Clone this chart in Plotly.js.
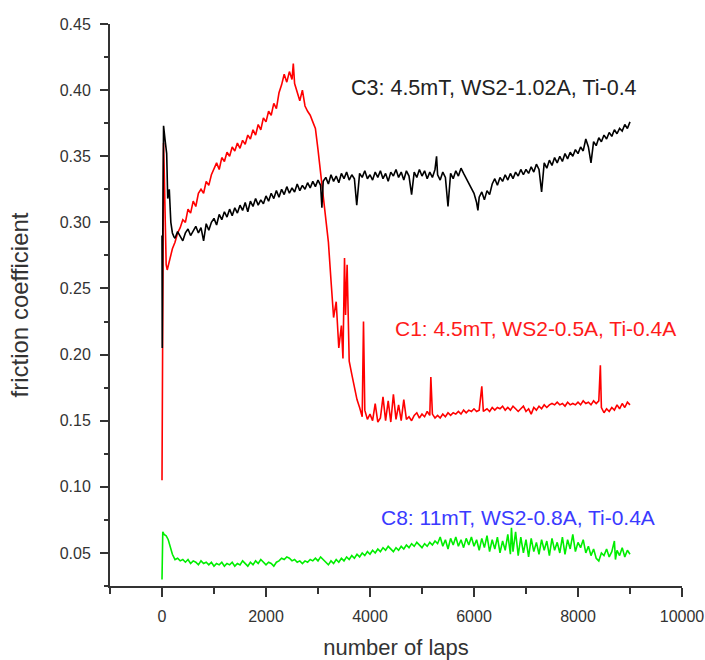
<!DOCTYPE html>
<html>
<head>
<meta charset="utf-8">
<script src="https://cdn.plot.ly/plotly-3.0.1.min.js"></script>
<style>html,body{margin:0;padding:0;background:#fff;}#chart{width:705px;height:660px;}</style>
</head>
<body>
<div id="chart"></div>
<script>
// C3: 4.5mT, WS2-1.02A, Ti-0.4  (black)
const lapsC3 = [0,5,15,30,60,90,110,140,170,200,230,
250,300,350,400,450,500,550,600,650,700,750,800,850,900,950,
1000,1050,1100,1150,1200,1250,1300,1350,1400,1450,1500,1550,1600,1650,1700,1750,1800,1850,1900,1950,
2000,2050,2100,2150,2200,2250,2300,2350,2400,2450,2500,2550,2600,2650,2700,2750,2800,2850,2900,2950,
3000,3050,3075,3100,3150,3200,3250,3300,3350,3400,3450,3500,3550,3600,3650,3700,3745,3800,3850,3900,3950,
4000,4050,4100,4150,4200,4250,4300,4350,4400,4450,4500,4550,4600,4650,4700,4750,4800,4850,4900,4950,
5000,5050,5100,5150,5200,5250,5280,5300,5350,5400,5450,5500,5550,5600,5650,5700,5750,5800,5850,5900,5950,
6000,6050,6075,6100,6150,6200,6250,6300,6350,6400,6450,6500,6550,6600,6650,6700,6750,6800,6850,6900,6950,
7000,7050,7100,7150,7200,7250,7300,7350,7400,7450,7500,7550,7600,7650,7700,7750,7800,7850,7900,7950,
8000,8050,8100,8150,8200,8250,8300,8350,8400,8450,8500,8550,8600,8650,8700,8750,8800,8850,8900,8950,9000];
const muC3 = [0.290,0.205,0.290,0.373,0.362,0.352,0.318,0.325,0.300,0.292,0.289,
0.288,0.293,0.290,0.286,0.292,0.295,0.290,0.294,0.297,0.292,0.296,0.286,0.299,0.294,0.300,
0.303,0.298,0.306,0.302,0.308,0.304,0.310,0.305,0.311,0.307,0.313,0.309,0.315,0.308,0.316,0.312,0.318,0.313,0.317,0.314,
0.320,0.316,0.322,0.318,0.324,0.319,0.325,0.321,0.327,0.322,0.326,0.323,0.329,0.324,0.328,0.325,0.330,0.326,0.331,0.327,
0.332,0.328,0.311,0.331,0.334,0.329,0.336,0.331,0.335,0.330,0.337,0.333,0.338,0.332,0.336,0.333,0.313,0.337,0.334,0.339,0.333,
0.336,0.332,0.338,0.334,0.339,0.333,0.337,0.331,0.338,0.335,0.340,0.334,0.338,0.332,0.339,0.335,0.321,0.338,0.334,0.340,
0.335,0.339,0.333,0.338,0.334,0.340,0.350,0.336,0.332,0.338,0.334,0.312,0.337,0.333,0.339,0.335,0.341,0.337,0.333,0.330,0.326,
0.322,0.315,0.309,0.319,0.323,0.317,0.324,0.321,0.329,0.333,0.328,0.334,0.331,0.336,0.332,0.337,0.333,0.338,0.335,0.340,0.336,
0.340,0.337,0.342,0.338,0.344,0.340,0.323,0.345,0.341,0.347,0.343,0.349,0.345,0.350,0.346,0.352,0.348,0.353,0.350,0.355,
0.352,0.357,0.354,0.363,0.357,0.345,0.361,0.358,0.364,0.361,0.366,0.363,0.368,0.365,0.370,0.367,0.371,0.369,0.374,0.371,0.376];

// C1: 4.5mT, WS2-0.5A, Ti-0.4A  (red)
const lapsC1 = [0,8,15,30,45,60,80,100,150,200,250,300,350,400,450,500,550,600,650,700,750,800,850,900,950,
1000,1050,1100,1150,1200,1250,1300,1350,1400,1450,1500,1550,1600,1650,1700,1750,1800,1850,1900,1950,
2000,2050,2100,2150,2200,2250,2300,2350,2400,2450,2500,2525,2550,2600,2650,2700,2750,2800,2850,2900,2950,
3000,3050,3100,3150,3200,3250,3300,3350,3400,3450,3480,3510,3530,3560,3600,3650,3700,3750,3800,3850,3875,3900,3950,
4000,4050,4100,4150,4200,4250,4300,4350,4400,4450,4500,4550,4600,4650,4700,4750,4800,4850,4900,4950,
5000,5050,5100,5150,5170,5200,5250,5300,5350,5400,5450,5500,5550,5600,5650,5700,5750,5800,5850,5900,5950,
6000,6050,6100,6150,6180,6250,6300,6350,6400,6450,6500,6550,6600,6650,6700,6750,6800,6850,6900,6950,
7000,7050,7100,7150,7200,7250,7300,7350,7400,7450,7500,7550,7600,7650,7700,7750,7800,7850,7900,7950,
8000,8050,8100,8150,8200,8250,8300,8350,8400,8430,8450,8500,8550,8600,8650,8700,8750,8800,8850,8900,8950,9000];
const muC1 = [0.105,0.190,0.300,0.360,0.335,0.300,0.268,0.264,0.272,0.280,0.285,0.292,0.296,0.302,0.300,0.310,0.307,0.316,0.312,0.322,0.325,0.322,0.331,0.328,0.336,
0.340,0.345,0.340,0.349,0.346,0.353,0.350,0.357,0.354,0.360,0.356,0.362,0.359,0.366,0.363,0.370,0.366,0.374,0.370,0.379,
0.376,0.384,0.381,0.390,0.386,0.398,0.404,0.412,0.406,0.414,0.408,0.420,0.405,0.398,0.392,0.400,0.388,0.384,0.381,0.376,0.371,
0.355,0.338,0.320,0.302,0.285,0.256,0.228,0.240,0.205,0.222,0.197,0.273,0.230,0.268,0.195,0.185,0.176,0.166,0.160,0.153,0.225,0.158,0.151,
0.155,0.150,0.163,0.149,0.152,0.168,0.150,0.165,0.149,0.170,0.151,0.162,0.150,0.166,0.151,0.153,0.150,0.154,0.156,0.152,
0.155,0.153,0.157,0.154,0.183,0.155,0.152,0.154,0.152,0.155,0.153,0.156,0.154,0.156,0.155,0.157,0.155,0.158,0.156,0.158,0.157,
0.159,0.157,0.158,0.176,0.157,0.159,0.157,0.160,0.158,0.160,0.159,0.161,0.158,0.160,0.158,0.161,0.159,0.157,0.159,0.161,
0.157,0.159,0.155,0.160,0.158,0.161,0.159,0.162,0.160,0.162,0.163,0.162,0.164,0.162,0.163,0.161,0.164,0.162,0.163,0.162,
0.164,0.162,0.165,0.163,0.164,0.162,0.165,0.163,0.165,0.192,0.160,0.156,0.159,0.157,0.160,0.158,0.162,0.159,0.163,0.160,0.164,0.162];

// C8: 11mT, WS2-0.8A, Ti-0.4A  (green)
const lapsC8 = [0,5,15,40,80,120,160,200,250,300,350,400,450,500,550,600,650,700,750,800,850,900,950,
1000,1050,1100,1150,1200,1250,1300,1350,1400,1450,1500,1550,1600,1650,1700,1750,1800,1850,1900,1950,
2000,2050,2100,2150,2200,2250,2300,2350,2400,2450,2500,2550,2600,2650,2700,2750,2800,2850,2900,2950,
3000,3050,3100,3150,3200,3250,3300,3350,3400,3450,3500,3550,3600,3650,3700,3750,3800,3850,3900,3950,
4000,4050,4100,4150,4200,4250,4300,4350,4400,4450,4500,4550,4600,4650,4700,4750,4800,4850,4900,4950,
5000,5050,5100,5150,5200,5250,5300,5350,5400,5450,5500,5550,5600,5650,5700,5750,5800,5850,5900,5950,
6000,6050,6100,6150,6200,6250,6300,6350,6400,6450,6500,6550,6600,6650,6700,6720,6750,6800,6850,6900,6950,
7000,7050,7100,7150,7200,7250,7300,7350,7400,7450,7500,7550,7600,7650,7700,7750,7800,7850,7900,7950,
8000,8050,8100,8150,8200,8250,8300,8350,8400,8450,8500,8550,8600,8650,8700,8720,8750,8800,8850,8900,8950,9000];
const muC8 = [0.030,0.045,0.066,0.064,0.063,0.060,0.055,0.049,0.045,0.046,0.044,0.045,0.043,0.045,0.042,0.044,0.043,0.041,0.044,0.042,0.043,0.041,0.043,
0.040,0.042,0.041,0.043,0.040,0.042,0.041,0.043,0.040,0.042,0.041,0.044,0.042,0.040,0.043,0.041,0.044,0.042,0.045,0.043,
0.041,0.043,0.042,0.040,0.043,0.044,0.046,0.045,0.047,0.046,0.044,0.045,0.043,0.044,0.042,0.044,0.043,0.045,0.044,0.046,
0.044,0.047,0.045,0.043,0.041,0.044,0.042,0.045,0.043,0.046,0.044,0.047,0.045,0.048,0.046,0.049,0.047,0.050,0.048,0.051,
0.049,0.052,0.050,0.053,0.051,0.054,0.052,0.055,0.053,0.051,0.054,0.052,0.055,0.053,0.056,0.054,0.057,0.055,0.058,0.056,
0.054,0.057,0.055,0.058,0.056,0.059,0.057,0.062,0.055,0.060,0.053,0.061,0.056,0.062,0.055,0.060,0.054,0.061,0.056,0.062,
0.055,0.060,0.052,0.061,0.054,0.063,0.051,0.060,0.053,0.062,0.050,0.059,0.052,0.064,0.049,0.069,0.051,0.066,0.048,0.062,0.050,
0.060,0.047,0.061,0.051,0.058,0.049,0.060,0.052,0.059,0.048,0.061,0.052,0.058,0.050,0.062,0.049,0.060,0.053,0.064,0.051,
0.058,0.054,0.060,0.050,0.055,0.048,0.053,0.046,0.044,0.050,0.048,0.053,0.047,0.051,0.059,0.045,0.052,0.048,0.054,0.047,0.052,0.049];

const seriesLabels = ['C3: 4.5mT, WS2-1.02A, Ti-0.4', 'C1: 4.5mT, WS2-0.5A, Ti-0.4A', 'C8: 11mT, WS2-0.8A, Ti-0.4A'];

const FONT = 'Arial, "Liberation Sans", sans-serif';

const traces = [
  {x: lapsC8, y: muC8, type: 'scatter', mode: 'lines', name: seriesLabels[2], line: {color: '#00ee00', width: 1.6}},
  {x: lapsC1, y: muC1, type: 'scatter', mode: 'lines', name: seriesLabels[1], line: {color: '#ff0000', width: 1.6}},
  {x: lapsC3, y: muC3, type: 'scatter', mode: 'lines', name: seriesLabels[0], line: {color: '#000000', width: 1.6}}
];

const layout = {
  width: 705, height: 660,
  margin: {l: 110, r: 23, t: 24, b: 74},
  paper_bgcolor: '#fff', plot_bgcolor: '#fff',
  showlegend: false,
  font: {family: FONT, color: '#333'},
  xaxis: {
    range: [-1000, 10000], dtick: 2000, tick0: 0, tickformat: 'd',
    showgrid: false, zeroline: false, showline: true, linecolor: '#333', linewidth: 2,
    ticks: 'outside', ticklen: 9, tickwidth: 2, tickcolor: '#333',
    ticklabelstandoff: 6,
    minor: {dtick: 1000, ticks: 'outside', ticklen: 6, tickwidth: 2, tickcolor: '#333'},
    tickfont: {size: 16, color: '#333'},
    title: {text: 'number of laps', font: {size: 22, color: '#333'}, standoff: 20}
  },
  yaxis: {
    range: [0.025, 0.45], dtick: 0.05, tick0: 0, tickformat: '.2f',
    showgrid: false, zeroline: false, showline: true, linecolor: '#333', linewidth: 2,
    ticks: 'outside', ticklen: 8, tickwidth: 2, tickcolor: '#333',
    ticklabelstandoff: 6,
    minor: {dtick: 0.025, ticks: 'outside', ticklen: 4, tickwidth: 2, tickcolor: '#333'},
    tickfont: {size: 16, color: '#333'},
    title: {text: 'friction coefficient', font: {size: 24, color: '#333'}, standoff: 24}
  },
  annotations: [
    {xref: 'x', yref: 'y', x: 3600, y: 0.4016, xanchor: 'left', yanchor: 'middle', showarrow: false,
     text: seriesLabels[0], font: {family: FONT, size: 21.5, color: '#222'}},
    {xref: 'x', yref: 'y', x: 4440, y: 0.220, xanchor: 'left', yanchor: 'middle', showarrow: false,
     text: seriesLabels[1], font: {family: FONT, size: 21, color: '#ff1a1a'}},
    {xref: 'x', yref: 'y', x: 4180, y: 0.077, xanchor: 'left', yanchor: 'middle', showarrow: false,
     text: seriesLabels[2], font: {family: FONT, size: 21, color: '#3a3aff'}}
  ]
};

Plotly.newPlot('chart', traces, layout, {displayModeBar: false, staticPlot: true});
</script>
</body>
</html>
